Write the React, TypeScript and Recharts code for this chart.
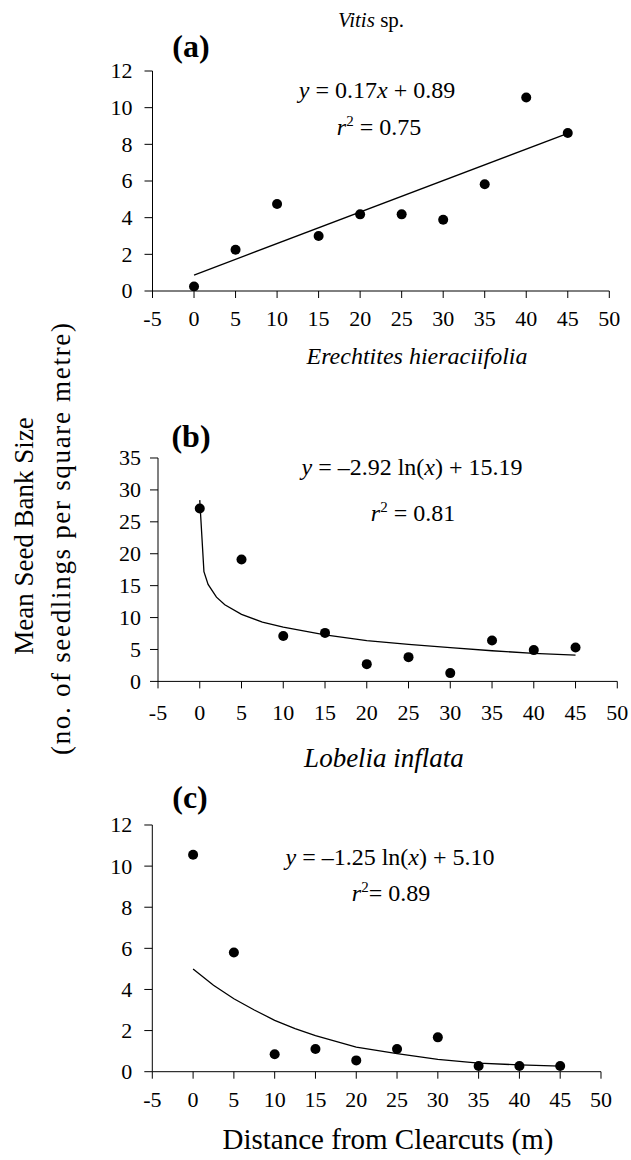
import { ScatterChart, Scatter, XAxis, YAxis } from 'recharts';

const distances = [0, 5, 10, 15, 20, 25, 30, 35, 40, 45];
const vitisValues = [0.25, 2.25, 4.75, 3.0, 4.18, 4.18, 3.89, 5.82, 10.55, 8.62];
const erechtitesValues = [27.1, 19.1, 7.1, 7.6, 2.7, 3.8, 1.3, 6.4, 4.9, 5.3];
const lobeliaValues = [10.55, 5.8, 0.85, 1.1, 0.55, 1.1, 1.67, 0.28, 0.28, 0.28];

const xTicks = [-5, 0, 5, 10, 15, 20, 25, 30, 35, 40, 45, 50];
const yTicksA = [0, 2, 4, 6, 8, 10, 12];
const yTicksB = [0, 5, 10, 15, 20, 25, 30, 35];
const yTicksC = [0, 2, 4, 6, 8, 10, 12];

// trend lines
const trendAx = [0, 45];
const trendAy = [0.87, 8.6];
const trendBx = [0, 0.5, 1, 2, 3, 5, 7.5, 10, 15, 20, 25, 30, 35, 40, 45];
const trendBy = [28.4, 17.2, 15.2, 13.2, 12.0, 10.5, 9.3, 8.5, 7.3, 6.4, 5.8, 5.3, 4.8, 4.4, 4.1];
const trendCx = [0, 2.5, 5, 7.5, 10, 12.5, 15, 20, 25, 30, 35, 40, 45];
const trendCy = [5.0, 4.2, 3.55, 3.0, 2.5, 2.1, 1.75, 1.2, 0.88, 0.6, 0.42, 0.33, 0.27];

const pts = (xs: number[], ys: number[]) => xs.map((x, i) => ({ x, y: ys[i] }));

const FONT = '"Liberation Serif", "Times New Roman", serif';

const XTick = (props: any) => (
  <text x={props.x} y={props.y} dy="0.75em" textAnchor="middle" fontSize={22} fontFamily={FONT} fill="#000">
    {props.payload.value}
  </text>
);

const YTick = (props: any) => (
  <text x={props.x} y={props.y} dy="0.34em" textAnchor="end" fontSize={22} fontFamily={FONT} fill="#000">
    {props.payload.value}
  </text>
);

type Rect = { left: number; right: number; top: number; bottom: number };
type PanelProps = {
  plot: Rect;
  yMax: number;
  yTicks: number[];
  points: { x: number; y: number }[];
  trend: { x: number; y: number }[];
  xTickMargin: number;
  yTickMargin: number;
};

const Dot = (props: any) => <circle cx={props.cx} cy={props.cy} r={5} fill="#000" />;

const Panel = ({ plot, yMax, yTicks, points, trend, xTickMargin, yTickMargin }: PanelProps) => {
  const padTop = 80;
  const padBottom = 60;
  const chartTop = plot.top - padTop;
  const height = plot.bottom - plot.top + padTop + padBottom;
  return (
    <div style={{ position: 'absolute', left: 0, top: chartTop }}>
      <ScatterChart
        width={631}
        height={height}
        margin={{ top: padTop, right: 631 - plot.right, bottom: padBottom - 45, left: plot.left - 60 }}
      >
        <XAxis
          type="number"
          dataKey="x"
          domain={[-5, 50]}
          ticks={xTicks}
          interval={0}
          height={45}
          tickSize={7}
          tickMargin={xTickMargin}
          stroke="#000"
          tick={XTick}
          allowDataOverflow
        />
        <YAxis
          type="number"
          dataKey="y"
          domain={[0, yMax]}
          ticks={yTicks}
          interval={0}
          width={60}
          tickSize={8}
          tickMargin={yTickMargin}
          stroke="#000"
          tick={YTick}
          allowDataOverflow
        />
        <Scatter
          data={trend}
          line={{ stroke: '#000', strokeWidth: 1.3 }}
          shape={() => <g />}
          isAnimationActive={false}
        />
        <Scatter data={points} fill="#000" shape={Dot} isAnimationActive={false} />
      </ScatterChart>
    </div>
  );
};

const sup = (s: string) => (
  <tspan dy={-9} fontSize={15}>
    {s}
  </tspan>
);

export default function App() {
  return (
    <div style={{ position: 'absolute', left: 0, top: 0, width: 631, height: 1160, background: '#fff' }}>
      <Panel
        plot={{ left: 152.5, right: 609.3, top: 70.7, bottom: 290.7 }}
        yMax={12}
        yTicks={yTicksA}
        points={pts(distances, vitisValues)}
        trend={pts(trendAx, trendAy)}
        xTickMargin={11}
        yTickMargin={12}
      />
      <Panel
        plot={{ left: 158, right: 617.3, top: 458.3, bottom: 681.7 }}
        yMax={35}
        yTicks={yTicksB}
        points={pts(distances, erechtitesValues)}
        trend={pts(trendBx, trendBy)}
        xTickMargin={15}
        yTickMargin={9}
      />
      <Panel
        plot={{ left: 152.3, right: 601, top: 825, bottom: 1071.7 }}
        yMax={12}
        yTicks={yTicksC}
        points={pts(distances, lobeliaValues)}
        trend={pts(trendCx, trendCy)}
        xTickMargin={12}
        yTickMargin={12}
      />
      <svg
        width={631}
        height={1160}
        style={{ position: 'absolute', left: 0, top: 0, pointerEvents: 'none' }}
        fontFamily={FONT}
        fill="#000"
      >
        <text x={371} y={27} fontSize={21} textAnchor="middle">
          <tspan fontStyle="italic">Vitis</tspan> sp.
        </text>

        <text x={191} y={57} fontSize={32} fontWeight="bold" textAnchor="middle">(a)</text>
        <text x={377} y={98} fontSize={24} textAnchor="middle">
          <tspan fontStyle="italic">y</tspan> = 0.17<tspan fontStyle="italic">x</tspan> + 0.89
        </text>
        <text x={379} y={135} fontSize={24} textAnchor="middle">
          <tspan fontStyle="italic">r</tspan>
          {sup('2')}
          <tspan dy={9}> = 0.75</tspan>
        </text>
        <text x={417} y={364} fontSize={24} fontStyle="italic" textAnchor="middle">Erechtites hieraciifolia</text>

        <text x={191} y={447} fontSize={32} fontWeight="bold" textAnchor="middle">(b)</text>
        <text x={412} y={475} fontSize={24} textAnchor="middle">
          <tspan fontStyle="italic">y</tspan> = –2.92 ln(<tspan fontStyle="italic">x</tspan>) + 15.19
        </text>
        <text x={413} y={521} fontSize={24} textAnchor="middle">
          <tspan fontStyle="italic">r</tspan>
          {sup('2')}
          <tspan dy={9}> = 0.81</tspan>
        </text>
        <text x={384} y={767} fontSize={27} fontStyle="italic" textAnchor="middle">Lobelia inflata</text>

        <text x={190} y={808} fontSize={32} fontWeight="bold" textAnchor="middle">(c)</text>
        <text x={390} y={865} fontSize={24} textAnchor="middle">
          <tspan fontStyle="italic">y</tspan> = –1.25 ln(<tspan fontStyle="italic">x</tspan>) + 5.10
        </text>
        <text x={391} y={901} fontSize={24} textAnchor="middle">
          <tspan fontStyle="italic">r</tspan>
          {sup('2')}
          <tspan dy={9}>= 0.89</tspan>
        </text>
        <text x={388} y={1149} fontSize={29} textAnchor="middle">Distance from Clearcuts (m)</text>

        <text transform="translate(33 536) rotate(-90)" fontSize={27} textAnchor="middle">Mean Seed Bank Size</text>
        <text
          transform="translate(70 539) rotate(-90)"
          fontSize={27}
          textAnchor="middle"
          textLength={432}
          lengthAdjust="spacing"
        >
          (no. of seedlings per square metre)
        </text>
      </svg>
    </div>
  );
}
